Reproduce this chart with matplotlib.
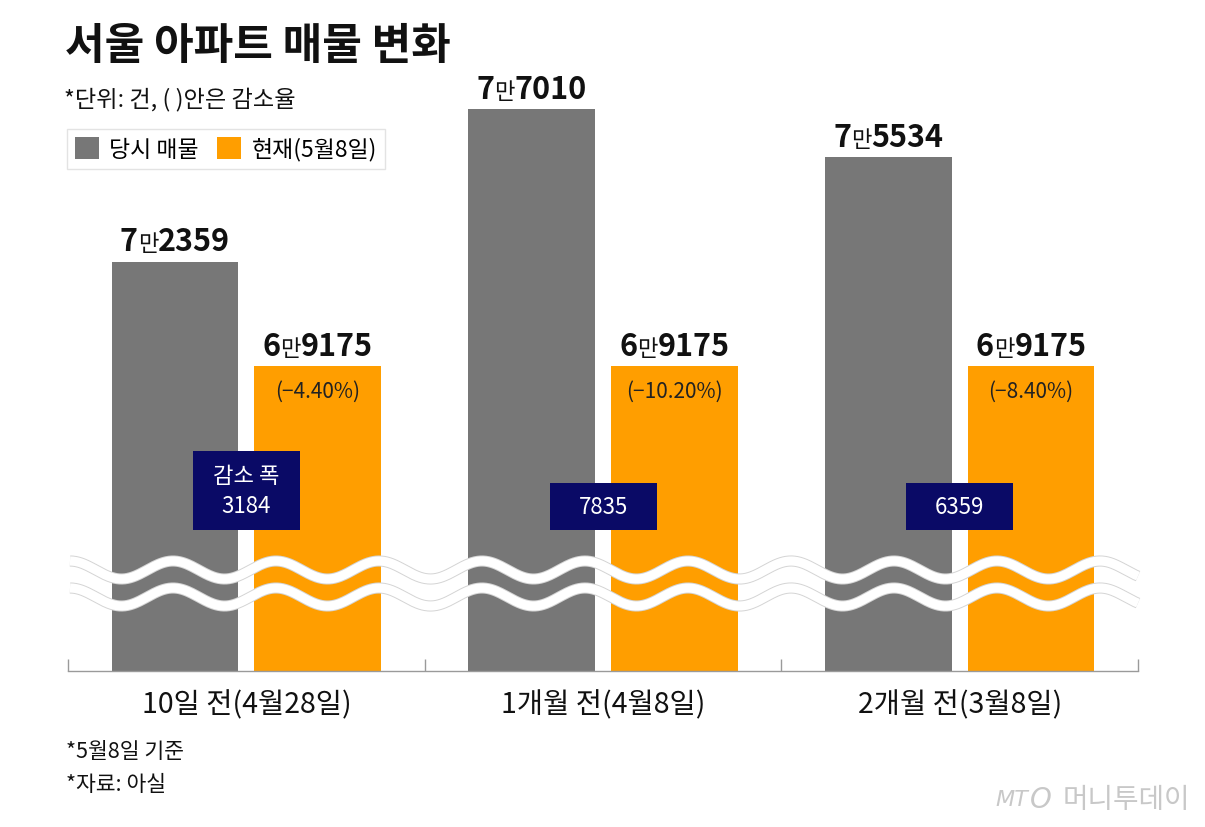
import matplotlib
matplotlib.use('Agg')
import matplotlib.pyplot as plt
import matplotlib.transforms as mtrans
import numpy as np
from matplotlib.offsetbox import TextArea, HPacker, AnnotationBbox
from matplotlib.patches import Rectangle

plt.rcParams['font.family'] = ['Noto Sans CJK KR', 'DejaVu Sans']

# ---------------- data ----------------
categories = ["10일 전(4월28일)", "1개월 전(4월8일)", "2개월 전(3월8일)"]
series_names = ["당시 매물", "현재(5월8일)"]
before_values = [72359, 77010, 75534]
current_values = [69175, 69175, 69175]
pct_labels = ["(−4.40%)", "(−10.20%)", "(−8.40%)"]
diff_titles = ["감소 폭", "", ""]

title = "서울 아파트 매물 변화"
subtitle = "*단위: 건, ( )안은 감소율"
notes = ["*5월8일 기준", "*자료: 아실"]

GRAY = '#777777'
ORANGE = '#ff9e00'
NAVY = '#0a0a66'

W, H = 1205, 828
fig = plt.figure(figsize=(W / 100, H / 100), dpi=100)
fig.patch.set_facecolor('white')


def fx(px):
    return px / W


def fy(py):
    return 1 - py / H


ax = fig.add_axes([fx(68), fy(672), 1070 / W, 612 / H])
x = np.arange(len(categories))
bw = 0.356
off = 0.2
b1 = ax.bar(x - off, before_values, bw, color=GRAY, label=series_names[0], zorder=2)
b2 = ax.bar(x + off, current_values, bw, color=ORANGE, label=series_names[1], zorder=2)
ax.set_xlim(-0.5, 2.5)
ax.set_ylim(59875, 78534)

for s in ['top', 'left', 'right']:
    ax.spines[s].set_visible(False)
ax.spines['bottom'].set_color('#9a9a9a')
ax.spines['bottom'].set_linewidth(1.0)
ax.set_yticks([])
ax.set_xticks(x)
ax.set_xticklabels(categories, fontsize=20.5, color='#111111')
ax.tick_params(axis='x', which='major', length=0, pad=13)
ax.set_xticks(np.arange(-0.5, len(categories), 1.0), minor=True)
ax.tick_params(axis='x', which='minor', direction='in', length=9, width=1.0, color='#9a9a9a')


def man_parts(v):
    return str(v // 10000), "만", f"{v % 10000:04d}"


def value_label(xpos, v):
    a, m, b = man_parts(v)
    big = dict(fontsize=22, fontweight='bold', color='#111111')
    small = dict(fontsize=16, color='#111111')
    pack = HPacker(children=[TextArea(a, textprops=big), TextArea(m, textprops=small),
                             TextArea(b, textprops=big)], align='baseline', pad=0, sep=0)
    ab = AnnotationBbox(pack, (xpos, v), xybox=(0, 3), xycoords='data',
                        boxcoords='offset points', box_alignment=(0.5, 0),
                        frameon=False, pad=0)
    ax.add_artist(ab)


for i in range(len(categories)):
    value_label(x[i] - off, before_values[i])
    value_label(x[i] + off, current_values[i])
    ax.annotate(pct_labels[i], (x[i] + off, current_values[i]), xytext=(0, -18),
                textcoords='offset points', ha='center', va='center',
                fontsize=15, color='#222222', zorder=4)

# navy difference boxes
blend = mtrans.blended_transform_factory(ax.transData, ax.transAxes)
for i in range(len(categories)):
    diff = before_values[i] - current_values[i]
    two = diff_titles[i] != ""
    bottom = 0.230
    height = 0.129 if two else 0.077
    ax.add_patch(Rectangle((x[i] - 0.15, bottom), 0.30, height, transform=blend,
                           facecolor=NAVY, edgecolor='none', zorder=5))
    txt = f"{diff_titles[i]}\n{diff}" if two else f"{diff}"
    ax.text(x[i], bottom + height / 2, txt, transform=blend, ha='center', va='center',
            fontsize=16, color='white', linespacing=1.4, zorder=6)

# wavy break lines (decoration in pixel space)
xs = np.linspace(70, 1138, 800)
P = 103.0
for yc in (571, 598):
    ys = yc - 9 * np.cos(2 * np.pi * (xs - 70) / P)
    ax.plot(fx(xs), fy(ys), transform=fig.transFigure, color='#d4d4d4', lw=8.0,
            solid_capstyle='butt', zorder=3, clip_on=False)
    ax.plot(fx(xs), fy(ys), transform=fig.transFigure, color='white', lw=6.6,
            solid_capstyle='butt', zorder=3.1, clip_on=False)

# title and texts
fig.text(fx(65), fy(46), title, fontsize=31, fontweight='bold', va='center', ha='left',
         color='#111111')
fig.text(fx(64), fy(99), subtitle, fontsize=16.7, va='center', ha='left', color='#111111')
fig.text(fx(66), fy(752), notes[0], fontsize=15.5, va='center', ha='left', color='#111111')
fig.text(fx(66), fy(785), notes[1], fontsize=15.5, va='center', ha='left', color='#111111')

leg = fig.legend(handles=[b1, b2], labels=series_names, loc='upper left',
                 bbox_to_anchor=(fx(67), fy(130)), ncol=2, fontsize=16.5,
                 frameon=True, fancybox=False, edgecolor='#dddddd',
                 handlelength=1.05, handleheight=1.1, handletextpad=0.45,
                 columnspacing=0.8, borderpad=0.35, borderaxespad=0)
leg.get_frame().set_linewidth(1.0)

# watermark
fig.text(fx(995), fy(800), "MT", fontsize=16, style='italic', color='#c8c8c8',
         va='center', ha='left', family='DejaVu Sans')
fig.text(fx(1030), fy(800), "O", fontsize=20, style='italic', color='#c8c8c8',
         va='center', ha='left', family='DejaVu Sans')
fig.text(fx(1190), fy(800), "머니투데이", fontsize=20, color='#c8c8c8',
         va='center', ha='right', fontweight='light')

fig.savefig('out.png', dpi=100, facecolor='white')
